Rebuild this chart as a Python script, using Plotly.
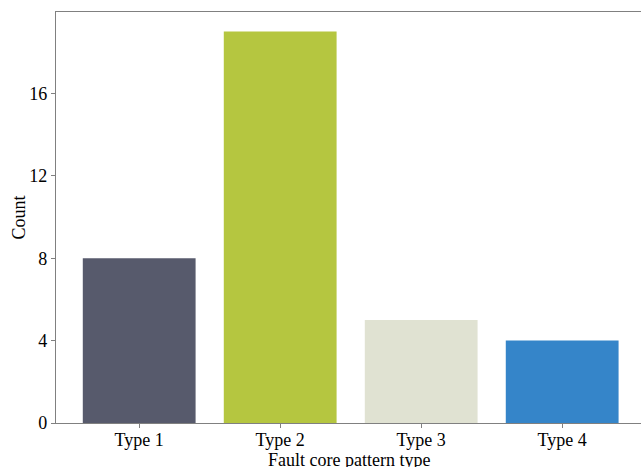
import plotly.graph_objects as go

# Fault core pattern counts
categories = ["Type 1", "Type 2", "Type 3", "Type 4"]
counts = [8, 19, 5, 4]
colors = ["#575a6c", "#b5c640", "#e0e2d2", "#3585c9"]
y_ticks = [0, 4, 8, 12, 16]

font_family = "Liberation Serif, Times New Roman, serif"
axis_color = "#808080"

fig = go.Figure(
    go.Bar(
        x=list(range(len(categories))),
        y=counts,
        marker=dict(color=colors, line=dict(width=0)),
        width=0.8,
    )
)

fig.update_layout(
    width=641,
    height=467,
    margin=dict(l=56, r=0, t=12, b=44),
    paper_bgcolor="white",
    plot_bgcolor="white",
    showlegend=False,
    font=dict(family=font_family, size=18, color="black"),
)

fig.update_xaxes(
    range=[-0.59, 3.559],
    tickvals=list(range(len(categories))),
    ticktext=categories,
    ticks="outside",
    ticklen=4,
    tickcolor=axis_color,
    ticklabelstandoff=-4,
    showline=True,
    linecolor=axis_color,
    linewidth=1.2,
    mirror=True,
    showgrid=False,
    zeroline=False,
)

fig.update_yaxes(
    range=[0, 19.95],
    tickvals=y_ticks,
    ticks="outside",
    ticklen=4,
    tickcolor=axis_color,
    showline=True,
    linecolor=axis_color,
    linewidth=1.2,
    mirror=False,
    showgrid=False,
    zeroline=False,
)

# Axis titles
fig.add_annotation(
    text="Fault core pattern type",
    xref="paper", yref="paper", x=0.5, y=0,
    xanchor="center", yanchor="middle", yshift=-37,
    showarrow=False, font=dict(size=18),
)
fig.add_annotation(
    text="Count",
    xref="paper", yref="paper", x=0, y=0.5,
    xanchor="center", yanchor="middle", xshift=-38,
    textangle=-90, showarrow=False, font=dict(size=18),
)

fig.write_html("out.html")
